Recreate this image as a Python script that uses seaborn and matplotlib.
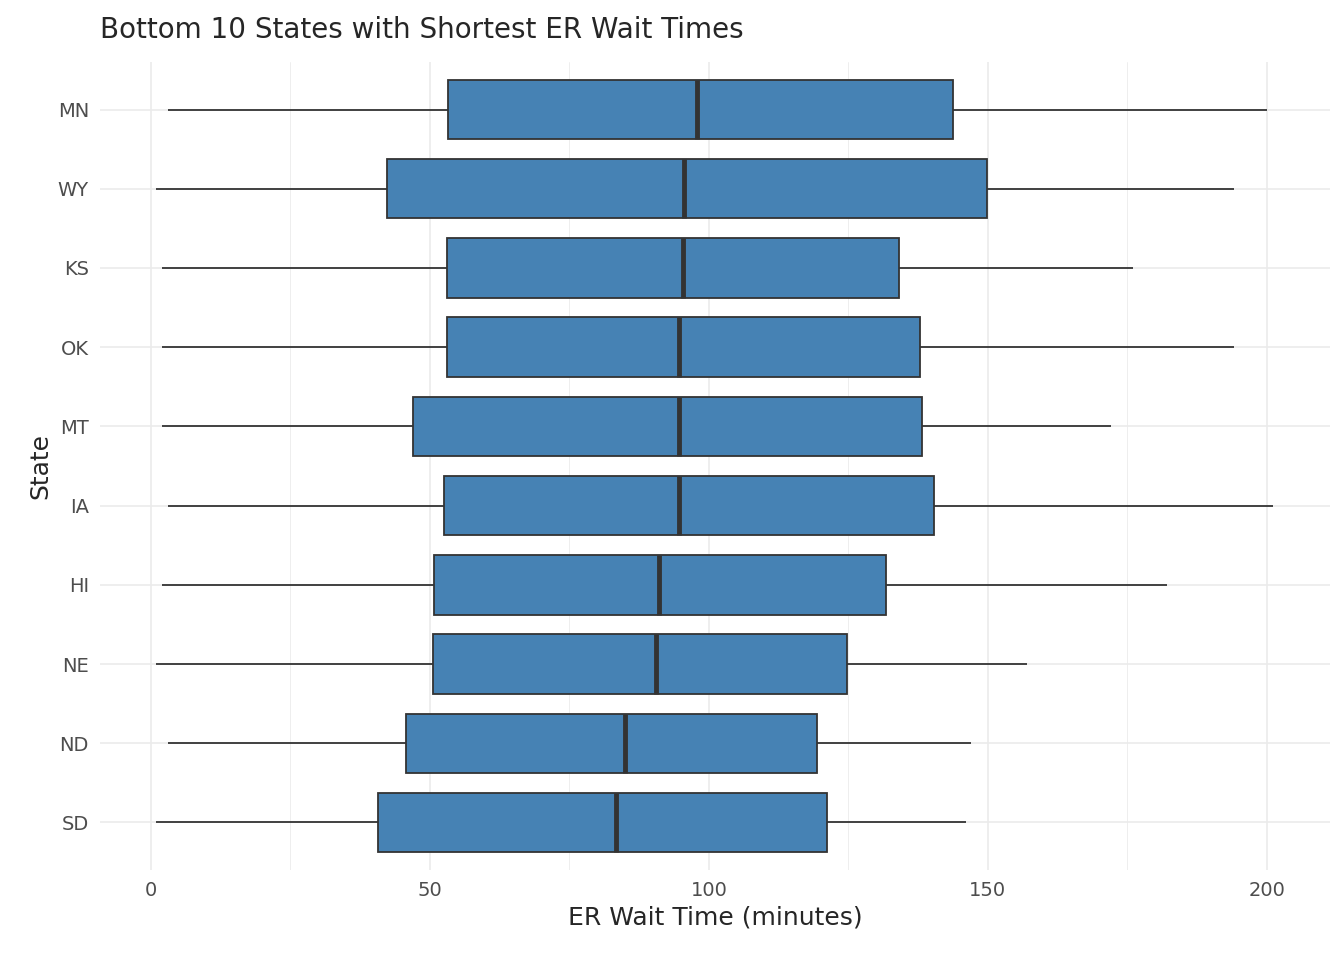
import numpy as np
import pandas as pd
import seaborn as sns
from matplotlib import pyplot as plt
from matplotlib.ticker import MultipleLocator

states = ["MN", "WY", "KS", "OK", "MT", "IA", "HI", "NE", "ND", "SD"]
mins = [3.0, 0.9, 2.0, 2.0, 2.0, 3.0, 2.0, 0.9, 3.0, 0.9]
q1s = [53.2, 42.3, 53.0, 53.0, 46.9, 52.5, 50.7, 50.5, 45.8, 40.8]
medians = [97.8, 95.6, 95.3, 94.7, 94.7, 94.7, 91.0, 90.6, 85.0, 83.4]
q3s = [143.8, 149.9, 134.1, 137.9, 138.2, 140.4, 131.8, 124.8, 119.3, 121.2]
maxs = [200.0, 194.1, 176.0, 194.1, 172.1, 201.1, 182.1, 157.0, 147.0, 146.1]

# five summary values per state; with whis=inf seaborn reproduces them exactly
rows = []
for s, a, b, c, d, e in zip(states, mins, q1s, medians, q3s, maxs):
    for v in (a, b, c, d, e):
        rows.append({"State": s, "wait": v})
df = pd.DataFrame(rows)

sns.set_style("whitegrid")
plt.rcParams["font.family"] = ["DejaVu Sans"]
fig = plt.figure(figsize=(13.44, 9.6), dpi=100)
ax = fig.add_axes([100 / 1344, 90 / 960, 1230 / 1344, 808 / 960])

line = {"color": "#333333", "linewidth": 1.3}
sns.boxplot(data=df, x="wait", y="State", order=states, whis=np.inf, width=0.75,
            color="steelblue", saturation=1, ax=ax,
            boxprops={"facecolor": "steelblue", "edgecolor": "#333333", "linewidth": 1.3},
            medianprops={"color": "#333333", "linewidth": 3.5},
            whiskerprops=line, capprops={"linewidth": 0})

ax.set_xlim(-9.1, 211.3)
ax.set_ylim(9.6, -0.6)
ax.xaxis.set_major_locator(MultipleLocator(50))
ax.xaxis.set_minor_locator(MultipleLocator(25))
ax.grid(True, which="major", color="#ebebeb", linewidth=1.2)
ax.grid(True, which="minor", axis="x", color="#ebebeb", linewidth=0.6)
ax.set_axisbelow(True)
for sp in ax.spines.values():
    sp.set_visible(False)
ax.tick_params(axis="both", length=0, labelsize=14, labelcolor="#4d4d4d", pad=8)
ax.set_xlabel("ER Wait Time (minutes)", fontsize=18)
ax.set_ylabel("State", fontsize=18)
fig.text(100 / 1344, 1 - 30 / 960, "Bottom 10 States with Shortest ER Wait Times",
         fontsize=20, va="center", ha="left")

plt.savefig("out.png", dpi=100)
